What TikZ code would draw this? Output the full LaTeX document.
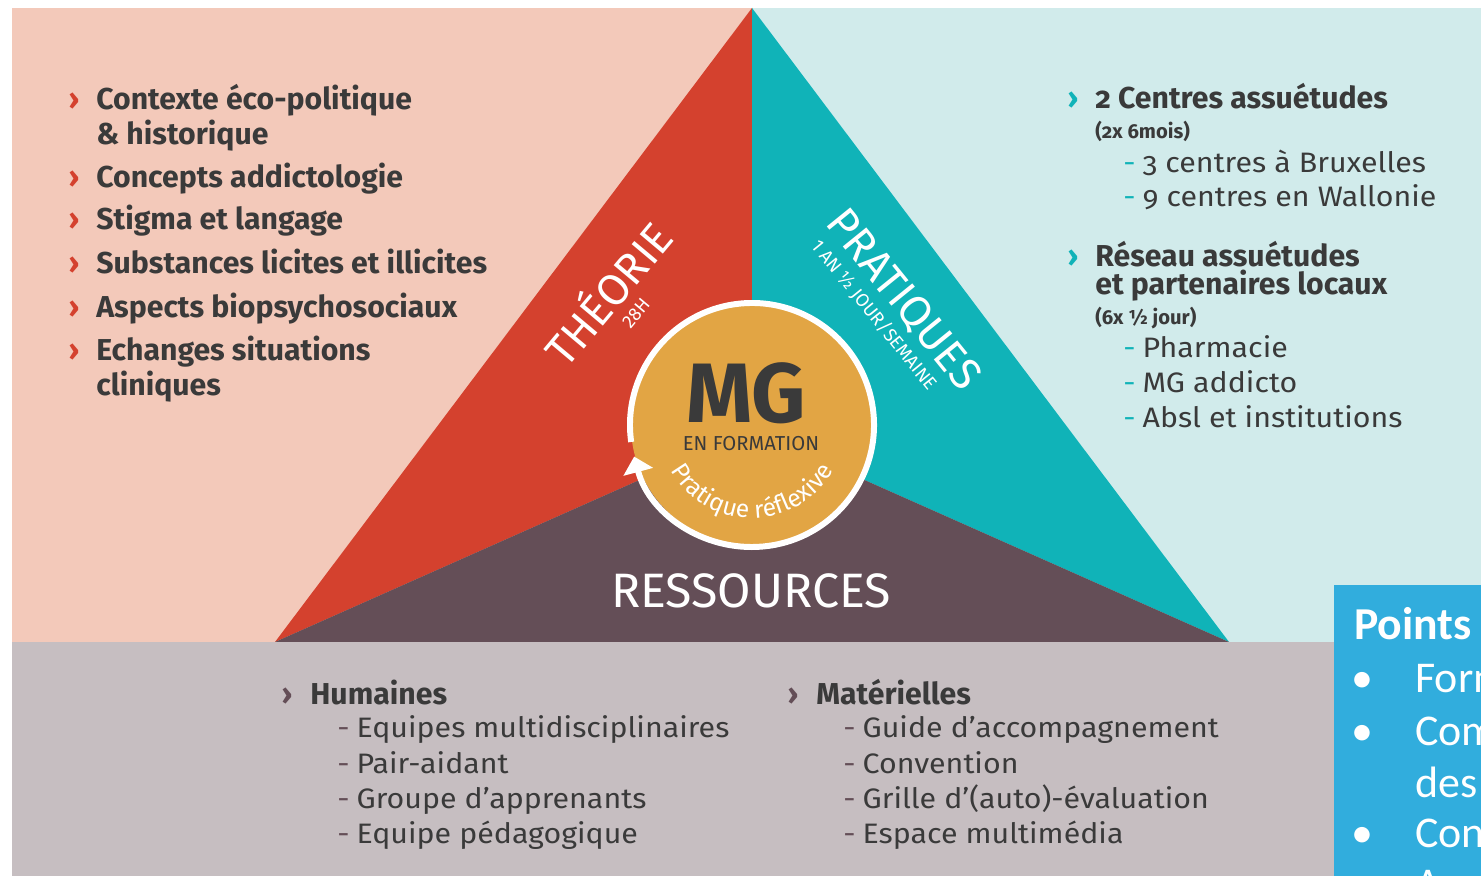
\documentclass[tikz,border=0pt]{standalone}
\usepackage{fontspec}
\setmainfont{Fira Sans}[Numbers=OldStyle]
\newfontfamily\subfont{Fira Sans}[FakeStretch=1.08,Numbers=OldStyle]
\newfontfamily\titlefont{Fira Sans}
\newfontfamily\calibrifont{Carlito}
\usetikzlibrary{arrows.meta,decorations.text,positioning}
\definecolor{pinkbg}{HTML}{F3C9BA}
\definecolor{cyanbg}{HTML}{D1EBEB}
\definecolor{graybg}{HTML}{C6BEC1}
\definecolor{redtri}{HTML}{D4412E}
\definecolor{tealtri}{HTML}{10B3B8}
\definecolor{mauvetri}{HTML}{644E57}
\definecolor{mgorange}{HTML}{E2A544}
\definecolor{bluebox}{HTML}{31ADDD}
\definecolor{darktext}{HTML}{3A3A3A}
\tikzset{%
	chevron/.style  = {anchor=base, inner sep=0pt, font=\bfseries\fontsize{17}{20}\selectfont},
	headtext/.style = {anchor=base west, inner sep=0pt, text=darktext, font=\bfseries\fontsize{17.2}{20}\selectfont},
	smalltext/.style= {anchor=base west, inner sep=0pt, text=darktext, font=\bfseries\fontsize{11.5}{14}\selectfont},
	subtext/.style  = {anchor=base west, inner sep=0pt, text=darktext, font=\subfont\fontsize{16}{19}\selectfont},
	bigtitle/.style = {inner sep=0pt, text=white, font=\titlefont\fontsize{25}{25}\selectfont},
	smalltitle/.style={inner sep=0pt, text=white, font=\titlefont\fontsize{10.5}{10.5}\selectfont},
	boxtext/.style  = {anchor=base west, inner sep=0pt, text=white, font=\calibrifont\fontsize{25}{30}\selectfont},
}
\newcommand{\tdash}{\textcolor{tealtri}{-}\hspace{0.25em}}
\newcommand{\mdash}{\textcolor{mauvetri}{-}\hspace{0.25em}}

\begin{document}
\begin{tikzpicture}[x=0.02cm,y=0.02cm]
	\clip (0,0) rectangle (1481,876);
	% fonds
	\fill[white] (0,0) rectangle (1481,876);
	\fill[pinkbg] (12,234) rectangle (752,868);
	\fill[cyanbg] (752,234) rectangle (1481,868);
	\fill[graybg] (12,0) rectangle (1481,234);
	% triangle
	\coordinate (apex) at (752,868);
	\coordinate (bl) at (275,234);
	\coordinate (br) at (1229,234);
	\coordinate (mid) at (752,446);
	\coordinate (ctr) at (752,451);
	\fill[redtri] (apex) -- (bl) -- (mid) -- cycle;
	\fill[tealtri] (apex) -- (mid) -- (br) -- cycle;
	\fill[mauvetri] (bl) -- (mid) -- (br) -- cycle;
	% cercle central
	\fill[mgorange] (ctr) circle[radius=121];
	\draw[white,line width=3.4pt,-{Triangle[width=17pt,length=9pt]}] (ctr) ++(188:122) arc[start angle=188,end angle=-165,radius=122];
	\node[anchor=base,inner sep=0pt,text=darktext,font=\titlefont\bfseries\fontsize{48}{48}\selectfont] (mg) at (746,453) {MG};
	\node[anchor=base,inner sep=0pt,text=darktext,font=\titlefont\fontsize{11.5}{12}\selectfont] (enform) at (751,425) {EN FORMATION};
	\path[decorate,decoration={text along path,text align=center,text color=white,
		text={|\titlefont\fontsize{14}{14}\selectfont|Pratique réflexive}}]
		(ctr) ++(207:93) arc[start angle=207,end angle=333,radius=93];
	% titres des branches
	\node[bigtitle,rotate=50] (theo) at (606,584) {THÉORIE};
	\node[smalltitle,rotate=50] (theoh) at (636,563) {28H};
	\node[bigtitle,rotate=-51] (prat) at (903,576) {PRATIQUES};
	\node[smalltitle,rotate=-51] (pratsub) at (874,561) {1 AN ½ JOUR/SEMAINE};
	\node[anchor=base,inner sep=0pt,text=white,font=\titlefont\fontsize{27.5}{27.5}\selectfont] (ress) at (751,268) {RESSOURCES};
	% theorie
	\foreach \y in {766,688,646,602,558,515}
		\node[chevron,text=redtri] at (74,\y) {›};
	\node[headtext] (th1) at (96,766) {Contexte éco-politique};
	\node[headtext] (th1b) at (96,731) {\& historique};
	\node[headtext] (th2) at (96,688) {Concepts addictologie};
	\node[headtext] (th3) at (96,646) {Stigma et langage};
	\node[headtext] (th4) at (96,602) {Substances licites et illicites};
	\node[headtext] (th5) at (96,558) {Aspects biopsychosociaux};
	\node[headtext] (th6) at (96,515) {Echanges situations};
	\node[headtext] (th6b) at (96,480) {cliniques};
	% pratiques
	\node[chevron,text=tealtri] at (1073,767) {›};
	\node[chevron,text=tealtri] at (1073,609) {›};
	\node[headtext] (pr1) at (1095,767) {2 Centres assuétudes};
	\node[smalltext] (pr1s) at (1095,737) {(2x 6mois)};
	\node[subtext] (pr1a) at (1123,703) {\tdash 3 centres à Bruxelles};
	\node[subtext] (pr1b) at (1123,669) {\tdash 9 centres en Wallonie};
	\node[headtext] (pr2) at (1095,609) {Réseau assuétudes};
	\node[headtext] (pr2b) at (1095,581) {et partenaires locaux};
	\node[smalltext] (pr2s) at (1095,551) {(6x ½ jour)};
	\node[subtext] (pr2a) at (1123,518) {\tdash Pharmacie};
	\node[subtext] (pr2c) at (1123,483) {\tdash MG addicto};
	\node[subtext] (pr2d) at (1123,448) {\tdash Absl et institutions};
	% ressources
	\node[chevron,text=mauvetri] at (287,172) {›};
	\node[headtext] (hum) at (310,172) {Humaines};
	\node[subtext] (hum1) at (337,138) {\mdash Equipes multidisciplinaires};
	\node[subtext] (hum2) at (337,103) {\mdash Pair-aidant};
	\node[subtext] (hum3) at (337,68) {\mdash Groupe d’apprenants};
	\node[subtext] (hum4) at (337,33) {\mdash Equipe pédagogique};
	\node[chevron,text=mauvetri] at (793,172) {›};
	\node[headtext] (mat) at (816,172) {Matérielles};
	\node[subtext] (mat1) at (843,138) {\mdash Guide d’accompagnement};
	\node[subtext] (mat2) at (843,103) {\mdash Convention};
	\node[subtext] (mat3) at (843,68) {\mdash Grille d’(auto)-évaluation};
	\node[subtext] (mat4) at (843,33) {\mdash Espace multimédia};
	% encadre bleu
	\fill[bluebox] (1334,0) rectangle (1481,291);
	\node[boxtext,font=\calibrifont\bfseries\fontsize{26}{30}\selectfont] (pts) at (1354,236) {Points};
	\foreach \y in {183,131,29}
		\node[boxtext] at (1351,\y) {•};
	\node[boxtext] (pt1) at (1415,183) {Form};
	\node[boxtext] (pt2) at (1415,131) {Com};
	\node[boxtext] (pt2b) at (1415,79) {des};
	\node[boxtext] (pt3) at (1415,29) {Con};
	\node[boxtext] (pt4) at (1415,-22) {A};
\end{tikzpicture}
\end{document}
